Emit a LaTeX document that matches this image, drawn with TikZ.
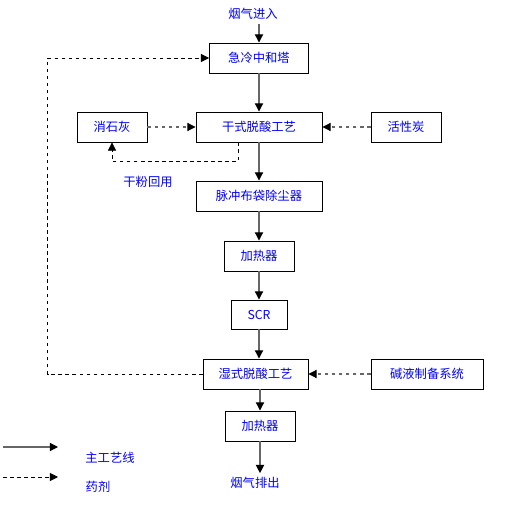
\documentclass[tikz,border=0pt]{standalone}
\usepackage{fontspec}
\setmainfont{Noto Sans CJK SC}
\usetikzlibrary{arrows.meta,positioning}

\begin{document}
\begin{tikzpicture}[
        x=0.03cm, y=-0.03cm,
        >={Triangle[length=7pt,width=7pt,color=black]}, % 箭头样式
        every node/.style={text=blue,font=\fontsize{10.5}{12}\selectfont},
        box/.style={draw,line width=0.8pt,inner sep=0pt,minimum height=0.9cm},
        main/.style={->,draw=black!60,line width=1pt},
        agent/.style={->,draw=black!60,dashed,line width=0.9pt}
    ]
        \useasboundingbox (0,0) rectangle (524,506);

        % 定义节点
        \node (in) at (253,14) {烟气进入};
        \node[box,minimum width=2.97cm] (quench) at (259,58) {急冷中和塔};
        \node[box,minimum width=3.78cm] (dry) at (259,127) {干式脱酸工艺};
        \node[box,minimum width=2.1cm] (lime) at (112,127) {消石灰};
        \node[box,minimum width=2.1cm] (carbon) at (406,127) {活性炭};
        \node[box,minimum width=3.78cm] (bag) at (259,196) {脉冲布袋除尘器};
        \node[box,minimum width=2.1cm] (heat1) at (259,256) {加热器};
        \node[box,minimum width=1.68cm,minimum height=0.87cm] (scr) at (259,314.5) {SCR};
        \node[box,minimum width=3.15cm] (wet) at (255.5,374) {湿式脱酸工艺};
        \node[box,minimum width=3.36cm] (lye) at (427,374) {碱液制备系统};
        \node[box,minimum width=2.1cm] (heat2) at (260,426) {加热器};
        \node (out) at (255,483) {烟气排出};
        \node (reuse) at (148,182) {干粉回用};

        % 图例
        \coordinate (l1) at (3,447);
        \coordinate (l1e) at (58,447);
        \coordinate (l2) at (3,477);
        \coordinate (l2e) at (58,477);
        \node (lmain) at (110,458) {主工艺线};
        \node (lagent) at (98,487) {药剂};

        % 连接节点
        \draw [main] (quench.north |- in.south) -- (quench.north);
        \draw [main] (quench) -- (dry);
        \draw [main] (dry) -- (bag);
        \draw [main] (bag) -- (heat1);
        \draw [main] (heat1) -- (scr);
        \draw [main] (scr.south) -- (scr.south |- wet.north);
        \draw [main] (wet.south -| heat2) -- (heat2);
        \draw [main] (heat2) -- (out.north -| heat2);

        \draw [agent] (lime) -- (dry);
        \draw [agent] (carbon) -- (dry);
        \draw [agent] (lye) -- (wet);
        \draw [agent,draw=black,line width=0.7pt] (wet.west) -- ++(-155,0) |- (quench.west);
        \draw [agent,draw=black,line width=0.7pt] ([xshift=-0.63cm]dry.south) -- ++(0,19) -| (lime.south);

        \draw [main] (l1) -- (l1e);
        \draw [agent,draw=black,line width=0.7pt] (l2) -- (l2e);

    \end{tikzpicture}
\end{document}
